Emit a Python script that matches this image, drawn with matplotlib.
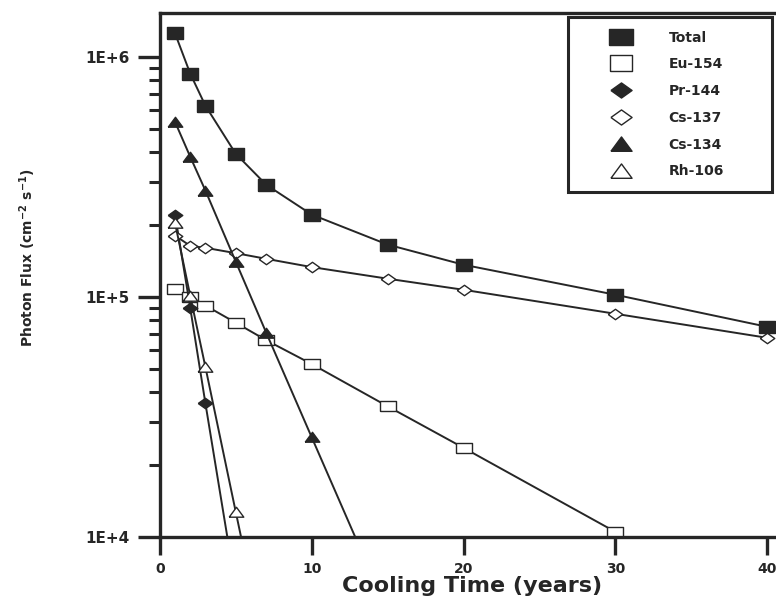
import numpy as np
import matplotlib.pyplot as plt
from matplotlib.lines import Line2D

plt.rcParams['font.family'] = ['DejaVu Sans']
plt.rcParams['font.weight'] = 'bold'
plt.rcParams['axes.labelweight'] = 'bold'
plt.rcParams['mathtext.default'] = 'bf'

# cooling time (years) and photon flux (cm^-2 s^-1)
t_total = [1, 2, 3, 5, 7, 10, 15, 20, 30, 40]
total = [1.25e6, 8.5e5, 6.25e5, 3.94e5, 2.93e5, 2.2e5, 1.65e5, 1.36e5, 1.02e5, 7.5e4]

t_eu154 = [1, 2, 3, 5, 7, 10, 15, 20, 30]
eu154 = [1.08e5, 1.0e5, 9.2e4, 7.8e4, 6.6e4, 5.25e4, 3.5e4, 2.35e4, 1.05e4]

t_pr144 = [1, 2, 3, 5]
pr144 = [2.2e5, 9.0e4, 3.6e4, 6.1e3]

t_cs137 = [1, 2, 3, 5, 7, 10, 15, 20, 30, 40]
cs137 = [1.8e5, 1.63e5, 1.6e5, 1.52e5, 1.44e5, 1.33e5, 1.19e5, 1.07e5, 8.5e4, 6.75e4]

t_cs134 = [1, 2, 3, 5, 7, 10, 15]
cs134 = [5.35e5, 3.83e5, 2.77e5, 1.4e5, 7.1e4, 2.6e4, 4.9e3]

t_rh106 = [1, 2, 3, 5, 7]
rh106 = [2.03e5, 1.01e5, 5.1e4, 1.27e4, 3.2e3]

labels = ['Total', 'Eu-154', 'Pr-144', 'Cs-137', 'Cs-134', 'Rh-106']

# markers stretched sideways like the scanned original
sx = 1.4
sq = [(-sx, -1), (sx, -1), (sx, 1), (-sx, 1), (-sx, -1)]
dia = [(-sx, 0), (0, 1), (sx, 0), (0, -1), (-sx, 0)]
tri = [(-sx, -0.9), (0, 1), (sx, -0.9), (-sx, -0.9)]

ink = '#262626'
styles = [
    (sq, ink, 11.5),
    (sq, 'white', 11),
    (dia, ink, 10.5),
    (dia, 'white', 10.5),
    (tri, ink, 10.5),
    (tri, 'white', 10.5),
]
series = [(t_total, total), (t_eu154, eu154), (t_pr144, pr144),
          (t_cs137, cs137), (t_cs134, cs134), (t_rh106, rh106)]

fig = plt.figure(figsize=(7.76, 5.99), dpi=100)
ax = fig.add_axes([0.206, 0.1035, 0.822, 0.8748])

for (t, v), (m, fc, ms) in zip(series, styles):
    ax.plot(t, v, color=ink, lw=1.4, marker=m, ms=ms, mfc=fc, mec=ink, mew=1.0)

ax.set_yscale('log')
ax.set_xlim(0, 42)
ax.set_ylim(1e4, 1.52e6)
ax.set_xticks([0, 10, 20, 30, 40])
ax.set_yticks([1e4, 1e5, 1e6])
ax.set_yticklabels(['1E+4', '1E+5', '1E+6'])
ax.tick_params(axis='both', which='major', direction='out', length=13, width=2.4,
               labelsize=10, colors=ink, pad=5)
ax.tick_params(axis='y', which='major', length=16, labelsize=11, pad=6)
ax.tick_params(axis='y', which='minor', direction='out', length=8, width=2.2, colors=ink)
ax.yaxis.set_minor_formatter(plt.NullFormatter())
for s in ax.spines.values():
    s.set_linewidth(2.4)
    s.set_color(ink)

ax.set_xlabel('Cooling Time (years)', fontsize=16, fontweight='bold', color=ink)
ax.xaxis.set_label_coords(0.489, -0.075)
ax.set_ylabel('Photon Flux (cm$^{-2}$ s$^{-1}$)', fontsize=10, fontweight='bold',
              color=ink)
ax.yaxis.set_label_coords(-0.191, 0.532)

handles = [Line2D([], [], ls='none', marker=m, ms=ms * 1.45, mfc=fc, mec=ink, mew=1.0)
           for m, fc, ms in styles]
leg = ax.legend(handles, labels, loc='upper left',
                bbox_to_anchor=(0.6395, 0.637, 0.3195, 0.356), mode='expand',
                frameon=True, fancybox=False, edgecolor=ink, framealpha=1,
                fontsize=10, handlelength=5.6, handletextpad=0.65,
                labelspacing=0.92, borderpad=1.0, borderaxespad=0)
leg.get_frame().set_linewidth(2.2)
for txt in leg.get_texts():
    txt.set_color(ink)

fig.savefig('out.png', dpi=100)
